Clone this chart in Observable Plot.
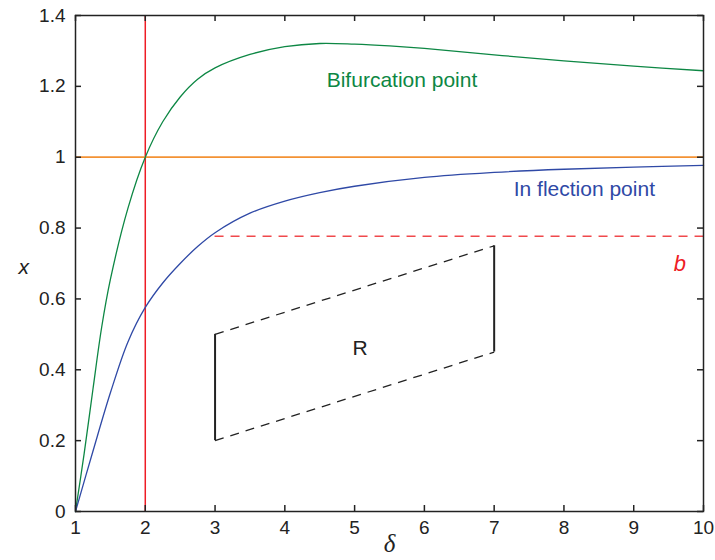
<!DOCTYPE html>
<html><head><meta charset="utf-8">
<script src="https://cdn.jsdelivr.net/npm/d3@7"></script>
<script src="https://cdn.jsdelivr.net/npm/@observablehq/plot@0.6"></script>
<style>body{margin:0;background:#fff}</style>
</head><body><div id="chart"></div>
<script>
// Bifurcation point curve (green)
const bifDelta = [1, 1.125, 1.25, 1.375, 1.5, 1.75, 2, 2.25, 2.5, 2.75, 3, 3.5, 4, 4.5, 5, 5.5, 6, 7, 8, 9, 10];
const bifX     = [0, 0.165, 0.345, 0.52, 0.655, 0.855, 1.0, 1.10, 1.17, 1.22, 1.252, 1.29, 1.312, 1.321, 1.319, 1.314, 1.307, 1.289, 1.272, 1.257, 1.244];
// Inflection point curve (blue)
const inflDelta = [1, 1.25, 1.5, 1.75, 2, 2.25, 2.5, 2.75, 3, 3.5, 4, 4.5, 5, 6, 7, 8, 9, 10];
const inflX     = [0, 0.17, 0.335, 0.478, 0.576, 0.645, 0.70, 0.748, 0.787, 0.842, 0.876, 0.900, 0.918, 0.943, 0.957, 0.966, 0.972, 0.977];
const criticalDelta = [2];
const unitLevel = [1];
const bLevel = [0.777];
const bRange = [3, 10];
const regionDelta = [3, 7];
const regionLow = [0.2, 0.45];
const regionHigh = [0.5, 0.75];
const xTicks = [1, 2, 3, 4, 5, 6, 7, 8, 9, 10];
const yTicks = [0, 0.2, 0.4, 0.6, 0.8, 1, 1.2, 1.4];
const yTickLabels = ["0", "0.2", "0.4", "0.6", "0.8", "1", "1.2", "1.4"];

const GREEN = "#0d8744", BLUE = "#2f49a6", ORANGE = "#f39234", RED = "#ee1c25", RED_D = "#f0494c";

const W = 715, H = 560, ML = 75, MR = 12, MT = 15, MB = 49;
const FW = W - ML - MR, FH = H - MT - MB, TK = 6;

const bif = bifDelta.map((d, i) => ({d, x: bifX[i]}));
const infl = inflDelta.map((d, i) => ({d, x: inflX[i]}));
const edges = [
  {x1: regionDelta[0], y1: regionHigh[0], x2: regionDelta[1], y2: regionHigh[1]},
  {x1: regionDelta[0], y1: regionLow[0], x2: regionDelta[1], y2: regionLow[1]}
];
const tickFont = 19;
const yFmt = d => yTickLabels[yTicks.indexOf(d)];

const chart = Plot.plot({
  width: W, height: H,
  marginLeft: ML, marginRight: MR, marginTop: MT, marginBottom: MB,
  style: {fontFamily: "'Liberation Sans', Arial, Helvetica, sans-serif", background: "#fff", color: "#222"},
  x: {domain: [1, 10]},
  y: {domain: [0, 1.4]},
  marks: [
    Plot.ruleX(criticalDelta, {stroke: RED, strokeWidth: 1.5}),
    Plot.ruleY(unitLevel, {stroke: ORANGE, strokeWidth: 1.7}),
    Plot.ruleY(bLevel, {x1: bRange[0], x2: bRange[1], stroke: RED_D, strokeWidth: 1.5, strokeDasharray: "9,7"}),
    Plot.line(bif, {x: "d", y: "x", stroke: GREEN, strokeWidth: 1.3, curve: "catmull-rom"}),
    Plot.line(infl, {x: "d", y: "x", stroke: BLUE, strokeWidth: 1.3, curve: "catmull-rom"}),
    Plot.link(edges, {x1: "x1", y1: "y1", x2: "x2", y2: "y2", stroke: "#222", strokeWidth: 1.3, strokeDasharray: "9,7"}),
    Plot.ruleX(regionDelta, {y1: regionLow, y2: regionHigh, stroke: "#222", strokeWidth: 2}),
    Plot.text(["Bifurcation point"], {x: 4.6, y: 1.218, text: d => d, textAnchor: "start", fill: GREEN, fontSize: 21}),
    Plot.text(["In flection point"], {x: 7.28, y: 0.91, text: d => d, textAnchor: "start", fill: BLUE, fontSize: 21}),
    Plot.text(["R"], {x: 5.08, y: 0.46, text: d => d, fill: "#222", fontSize: 21}),
    Plot.text(["b"], {x: 9.66, y: 0.70, text: d => d, fill: RED, fontSize: 22, fontStyle: "italic"}),
    Plot.frame({stroke: "#222", strokeWidth: 1.5}),
    // tick labels
    Plot.axisX({anchor: "bottom", ticks: xTicks, tickSize: 0, tickPadding: 9, fontSize: tickFont, label: null}),
    Plot.axisY({anchor: "left", ticks: yTicks, tickSize: 0, tickPadding: 10, tickFormat: yFmt, fontSize: tickFont, label: null}),
    // inward ticks on all four sides
    Plot.tickX(xTicks, {x: d => d, insetTop: FH - TK, stroke: "#222", strokeWidth: 1.5}),
    Plot.tickX(xTicks, {x: d => d, insetBottom: FH - TK, stroke: "#222", strokeWidth: 1.5}),
    Plot.tickY(yTicks, {y: d => d, insetRight: FW - TK, stroke: "#222", strokeWidth: 1.5}),
    Plot.tickY(yTicks, {y: d => d, insetLeft: FW - TK, stroke: "#222", strokeWidth: 1.5}),
    // axis titles
    Plot.text(["δ"], {frameAnchor: "bottom", dy: 40, text: d => d, fontSize: 25, fontStyle: "italic", fontFamily: "'Liberation Serif', 'DejaVu Serif', serif", fill: "#222"}),
    Plot.text(["x"], {frameAnchor: "left", dx: -57, dy: 4, text: d => d, fontSize: 21, fontStyle: "italic", fill: "#222"})
  ]
});
document.getElementById("chart").appendChild(chart);
</script>
</body></html>
